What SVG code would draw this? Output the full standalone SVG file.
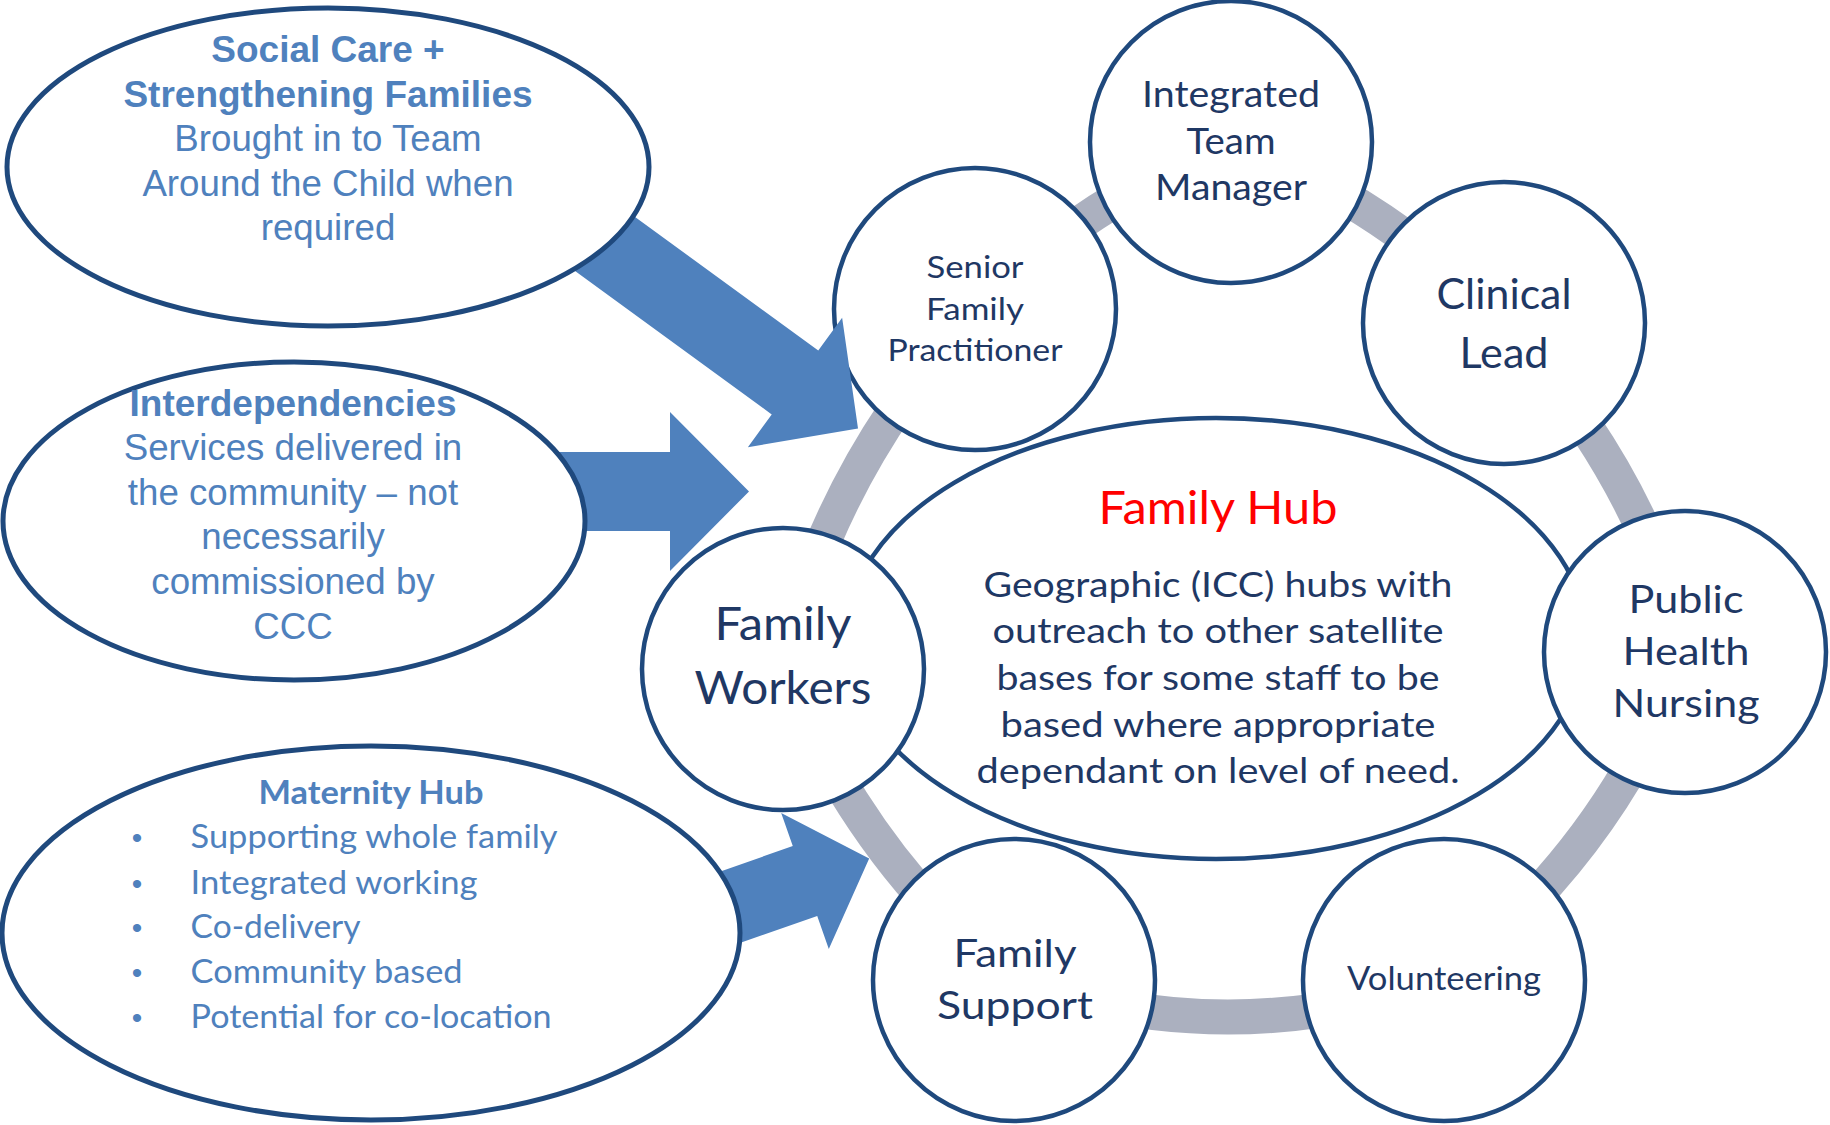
<svg xmlns="http://www.w3.org/2000/svg" width="1830" height="1125" viewBox="0 0 1830 1125">
  <style>
    .ring { fill: none; stroke: #ABB0BF; stroke-width: 35; }
    .node { fill: #FFFFFF; stroke: #1F497D; stroke-width: 4.5; }
    .side { fill: #FFFFFF; stroke: #1F497D; stroke-width: 5; }
    .arrow { fill: #4F81BD; }
    .ct { font-family: Lato, "Open Sans", "Noto Sans", sans-serif; fill: #1F3864; text-anchor: middle; }
    .hub-title { fill: #FF0000; }
    .lt { font-family: "Liberation Sans", Arial, sans-serif; fill: #4F81BD; text-anchor: middle; font-size: 36.7px; }
    .lt.b { font-size: 37px; }
    .mt { font-family: Lato, "Open Sans", "Noto Sans", sans-serif; fill: #4F81BD; font-size: 33px; }
    .bul { font-family: "Liberation Sans", Arial, sans-serif; fill: #4F81BD; font-size: 30px; text-anchor: middle; }
    .b { font-weight: bold; }
  </style>

  <!-- grey cycle linking the team circles -->
  <g id="cycle-links">
    <path class="ring" d="M975,309 Q1087,200.5 1231,142"/>
    <path class="ring" d="M1231,142 Q1388.5,203.5 1504,323"/>
    <path class="ring" d="M1504,323 Q1645.5,478.5 1685,652"/>
    <path class="ring" d="M1685,652 Q1612,850 1443,980"/>
    <path class="ring" d="M1443,980 Q1227.5,1054 1014,980"/>
    <path class="ring" d="M1014,980 Q867.5,869.5 783,669"/>
    <path class="ring" d="M783,669 Q827,471 975,309"/>
  </g>

  <!-- central hub -->
  <g id="family-hub">
    <ellipse class="node" cx="1216" cy="638.5" rx="370" ry="220.5"/>
    <text class="ct hub-title" x="1218" y="524" font-size="47" textLength="239" lengthAdjust="spacingAndGlyphs">Family Hub</text>
    <text class="ct" font-size="34.5" x="1218" y="597" textLength="469" lengthAdjust="spacingAndGlyphs">Geographic (ICC) hubs with</text>
    <text class="ct" font-size="34.5" x="1218" y="643" textLength="451" lengthAdjust="spacingAndGlyphs">outreach to other satellite</text>
    <text class="ct" font-size="34.5" x="1218" y="690" textLength="443" lengthAdjust="spacingAndGlyphs">bases for some staff to be</text>
    <text class="ct" font-size="34.5" x="1218" y="737" textLength="435" lengthAdjust="spacingAndGlyphs">based where appropriate</text>
    <text class="ct" font-size="34.5" x="1218" y="783" textLength="483" lengthAdjust="spacingAndGlyphs">dependant on level of need.</text>
  </g>

  <!-- team circles -->
  <g id="senior-family-practitioner">
    <circle class="node" cx="975" cy="309" r="141"/>
    <text class="ct" font-size="31.5" x="975" y="278" textLength="97" lengthAdjust="spacingAndGlyphs">Senior</text>
    <text class="ct" font-size="31.5" x="975" y="320" textLength="98" lengthAdjust="spacingAndGlyphs">Family</text>
    <text class="ct" font-size="31.5" x="975" y="361" textLength="175" lengthAdjust="spacingAndGlyphs">Practitioner</text>
  </g>

  <g id="integrated-team-manager">
    <circle class="node" cx="1231" cy="142" r="141"/>
    <text class="ct" font-size="37" x="1231" y="107" textLength="178" lengthAdjust="spacingAndGlyphs">Integrated</text>
    <text class="ct" font-size="37" x="1231" y="154" textLength="89" lengthAdjust="spacingAndGlyphs">Team</text>
    <text class="ct" font-size="37" x="1231" y="200" textLength="152" lengthAdjust="spacingAndGlyphs">Manager</text>
  </g>

  <g id="clinical-lead">
    <circle class="node" cx="1504" cy="323" r="141"/>
    <text class="ct" font-size="43" x="1504" y="309" textLength="135" lengthAdjust="spacingAndGlyphs">Clinical</text>
    <text class="ct" font-size="43" x="1504" y="368" textLength="89" lengthAdjust="spacingAndGlyphs">Lead</text>
  </g>

  <g id="public-health-nursing">
    <circle class="node" cx="1685" cy="652" r="141"/>
    <text class="ct" font-size="38.5" x="1686" y="613" textLength="115" lengthAdjust="spacingAndGlyphs">Public</text>
    <text class="ct" font-size="38.5" x="1686" y="665" textLength="127" lengthAdjust="spacingAndGlyphs">Health</text>
    <text class="ct" font-size="38.5" x="1686" y="717" textLength="147" lengthAdjust="spacingAndGlyphs">Nursing</text>
  </g>

  <g id="volunteering">
    <circle class="node" cx="1444" cy="980" r="141"/>
    <text class="ct" font-size="33" x="1444" y="990" textLength="194" lengthAdjust="spacingAndGlyphs">Volunteering</text>
  </g>

  <g id="family-support">
    <circle class="node" cx="1014" cy="980" r="141"/>
    <text class="ct" font-size="38.5" x="1015" y="967" textLength="123" lengthAdjust="spacingAndGlyphs">Family</text>
    <text class="ct" font-size="38.5" x="1015" y="1019" textLength="156" lengthAdjust="spacingAndGlyphs">Support</text>
  </g>

  <g id="family-workers">
    <circle class="node" cx="783" cy="669" r="141"/>
    <text class="ct" font-size="47" x="783" y="640" textLength="137" lengthAdjust="spacingAndGlyphs">Family</text>
    <text class="ct" font-size="47" x="783" y="704" textLength="177" lengthAdjust="spacingAndGlyphs">Workers</text>
  </g>

  <!-- block arrows feeding into the team -->
  <g id="arrows">
    <polygon class="arrow" transform="translate(795,382.5) rotate(36.1)" points="-290,-39.5 0,-39.5 0,-80 78,0 0,80 0,39.5 -290,39.5"/>
    <polygon class="arrow" points="540,452 670,452 670,412 749,491.5 670,571 670,531 540,531"/>
    <polygon class="arrow" transform="translate(805,881) rotate(-19.3)" points="-150,-37 0,-37 0,-72 68,0 0,72 0,37 -150,37"/>
  </g>

  <!-- partner services -->
  <g id="social-care">
    <ellipse class="side" cx="328" cy="167" rx="321" ry="159"/>
    <text class="lt b" x="328" y="62">Social Care +</text>
    <text class="lt b" x="328" y="107">Strengthening Families</text>
    <text class="lt" x="328" y="151">Brought in to Team</text>
    <text class="lt" x="328" y="196">Around the Child when</text>
    <text class="lt" x="328" y="240">required</text>
  </g>

  <g id="interdependencies">
    <ellipse class="side" cx="294" cy="521" rx="291" ry="159"/>
    <text class="lt b" x="293" y="416">Interdependencies</text>
    <text class="lt" x="293" y="460">Services delivered in</text>
    <text class="lt" x="293" y="505">the community – not</text>
    <text class="lt" x="293" y="549">necessarily</text>
    <text class="lt" x="293" y="594">commissioned by</text>
    <text class="lt" x="293" y="639">CCC</text>
  </g>

  <g id="maternity-hub">
    <ellipse class="side" cx="371" cy="933" rx="369" ry="187"/>
    <text class="mt b" x="371" y="804" text-anchor="middle" textLength="225" lengthAdjust="spacingAndGlyphs">Maternity Hub</text>
    <text class="bul" x="137" y="848">•</text>
    <text class="bul" x="137" y="894">•</text>
    <text class="bul" x="137" y="938">•</text>
    <text class="bul" x="137" y="983">•</text>
    <text class="bul" x="137" y="1028">•</text>
    <text class="mt" x="190.6" y="848" textLength="367" lengthAdjust="spacingAndGlyphs">Supporting whole family</text>
    <text class="mt" x="190.6" y="894" textLength="287" lengthAdjust="spacingAndGlyphs">Integrated working</text>
    <text class="mt" x="190.6" y="938" textLength="170" lengthAdjust="spacingAndGlyphs">Co-delivery</text>
    <text class="mt" x="190.6" y="983" textLength="272" lengthAdjust="spacingAndGlyphs">Community based</text>
    <text class="mt" x="190.6" y="1028" textLength="361" lengthAdjust="spacingAndGlyphs">Potential for co-location</text>
  </g>
</svg>
